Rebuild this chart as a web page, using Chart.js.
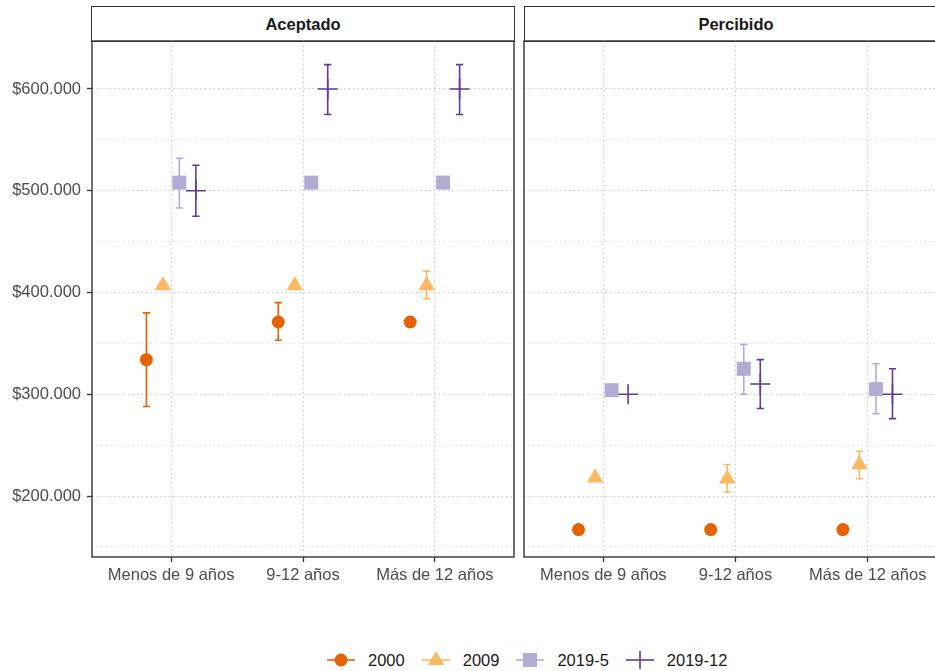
<!DOCTYPE html>
<html>
<head>
<meta charset="utf-8">
<script src="https://cdn.jsdelivr.net/npm/chart.js@4.4.0/dist/chart.umd.min.js"></script>
<style>
  body { margin: 0; width: 935px; height: 671px; overflow: hidden; background: #fff; position: relative;
         font-family: "Liberation Sans", Arial, sans-serif; }
  canvas { position: absolute; }
  .strip { position: absolute; top: 6px; height: 36px; box-sizing: border-box; border: 1.4px solid #333;
           background: #fff; color: #1A1A1A; font-weight: bold; font-size: 16.5px; text-align: center; line-height: 34px; }
  .legend { position: absolute; left: 327px; top: 650px; height: 20px; display: flex; align-items: center;
            font-size: 16.5px; color: #1A1A1A; }
  .legend svg { margin-right: 13px; }
  .legend span { margin-right: 17px; }
</style>
</head>
<body>
<div class="strip" style="left:91px;width:424px;">Aceptado</div>
<div class="strip" style="left:524px;width:424px;">Percibido</div>
<canvas id="panelA" width="529" height="580" style="left:0;top:21px;"></canvas>
<canvas id="panelP" width="453" height="580" style="left:509px;top:21px;"></canvas>

<div class="legend">
  <svg width="28" height="20"><line x1="0" y1="10" x2="28" y2="10" stroke="#E66101" stroke-width="1.6"/><circle cx="14" cy="10" r="6.5" fill="#E66101"/></svg><span>2000</span>
  <svg width="28" height="20"><line x1="0" y1="10" x2="28" y2="10" stroke="#FDB863" stroke-width="1.6"/><polygon points="14,1 22.2,15 5.8,15" fill="#FDB863"/></svg><span>2009</span>
  <svg width="28" height="20"><line x1="0" y1="10" x2="28" y2="10" stroke="#B2ABD2" stroke-width="1.6"/><rect x="7" y="3" width="14" height="14" fill="#B2ABD2"/></svg><span>2019-5</span>
  <svg width="28" height="20"><line x1="0" y1="10" x2="28" y2="10" stroke="#5E3C99" stroke-width="1.6"/><line x1="14" y1="1" x2="14" y2="19" stroke="#5E3C99" stroke-width="1.6"/></svg><span>2019-12</span>
</div>

<script>
// ---- data ----
const categories = ['Menos de 9 años', '9-12 años', 'Más de 12 años'];
const seriesNames = ['2000', '2009', '2019-5', '2019-12'];
const yTicks = [150000, 200000, 250000, 300000, 350000, 400000, 450000, 500000, 550000, 600000];

// Aceptado
const acep2000 = [334000, 371000, 371000];
const acep2000Lo = [288000, 353000, null];
const acep2000Hi = [380000, 390000, null];
const acep2009 = [407000, 407000, 407000];
const acep2009Lo = [null, null, 394000];
const acep2009Hi = [null, null, 421000];
const acep2019m5 = [508000, 508000, 508000];
const acep2019m5Lo = [483000, null, null];
const acep2019m5Hi = [532000, null, null];
const acep2019m12 = [500000, 600000, 600000];
const acep2019m12Lo = [475000, 575000, 575000];
const acep2019m12Hi = [525000, 624000, 624000];

// Percibido
const perc2000 = [167000, 167000, 167000];
const perc2000Lo = [null, null, null];
const perc2000Hi = [null, null, null];
const perc2009 = [218000, 217000, 231000];
const perc2009Lo = [null, 204000, 217000];
const perc2009Hi = [null, 231000, 244000];
const perc2019m5 = [304000, 325000, 305000];
const perc2019m5Lo = [null, 300000, 281000];
const perc2019m5Hi = [null, 349000, 330000];
const perc2019m12 = [300000, 310000, 300000];
const perc2019m12Lo = [null, 286000, 276000];
const perc2019m12Hi = [null, 334000, 325000];

// ---- styles ----
const colors = ['#E66101', '#FDB863', '#B2ABD2', '#5E3C99'];
const shapes = ['circle', 'triangle', 'rect', 'cross'];
const sizes = [6.5, 9.5, 9.9, 10];
const dodge = [-0.1875, -0.0625, 0.0625, 0.1875];

Chart.defaults.font.family = '"Liberation Sans", Arial, sans-serif';
Chart.defaults.font.size = 16.5;
Chart.defaults.color = '#4D4D4D';

function fmt(v) {
  return '$' + String(v).replace(/\B(?=(\d{3})+(?!\d))/g, '.');
}

const errorBars = {
  id: 'errorBars',
  beforeDatasetsDraw(chart) {
    const { ctx } = chart;
    const y = chart.scales.y;
    chart.data.datasets.forEach((ds, di) => {
      const meta = chart.getDatasetMeta(di);
      meta.data.forEach((pt, i) => {
        const lo = ds.errLo[i], hi = ds.errHi[i];
        if (lo == null || hi == null) return;
        const yl = y.getPixelForValue(lo), yh = y.getPixelForValue(hi);
        ctx.save();
        ctx.strokeStyle = ds.borderColor;
        ctx.lineWidth = 1.6;
        ctx.beginPath();
        ctx.moveTo(pt.x, yl); ctx.lineTo(pt.x, yh);
        ctx.moveTo(pt.x - 3.6, yl); ctx.lineTo(pt.x + 3.6, yl);
        ctx.moveTo(pt.x - 3.6, yh); ctx.lineTo(pt.x + 3.6, yh);
        ctx.stroke();
        ctx.restore();
      });
    });
  }
};

const panelBox = {
  id: 'panelBox',
  afterDraw(chart) {
    const { ctx, chartArea: a } = chart;
    ctx.save();
    ctx.strokeStyle = '#333';
    ctx.lineWidth = 1.4;
    ctx.strokeRect(a.left, a.top, a.right - a.left, a.bottom - a.top);
    ctx.restore();
  }
};

function makePanel(id, values, los, his, showY, pad) {
  const datasets = seriesNames.map((name, s) => ({
    label: name,
    data: values[s].map((v, i) => ({ x: i + 1 + dodge[s], y: v })),
    errLo: los[s],
    errHi: his[s],
    pointStyle: shapes[s],
    pointRadius: sizes[s],
    backgroundColor: colors[s],
    borderColor: colors[s],
    borderWidth: shapes[s] === 'cross' ? 1.6 : 0,
    showLine: false
  }));

  new Chart(document.getElementById(id), {
    type: 'scatter',
    data: { datasets },
    options: {
      responsive: false,
      animation: false,
      events: [],
      layout: { padding: pad },
      plugins: { legend: { display: false }, tooltip: { enabled: false } },
      scales: {
        x: {
          type: 'linear', min: 0.4, max: 3.6,
          afterBuildTicks: sc => { sc.ticks = categories.map((c, i) => ({ value: i + 1 })); },
          afterFit: sc => { sc.height = 44; },
          ticks: { callback: v => categories[v - 1], padding: 4, color: '#4D4D4D', autoSkip: false, maxRotation: 0 },
          grid: { color: '#C6C6C6', lineWidth: 1, tickLength: 5, tickColor: '#333', tickWidth: 1.3, tickBorderDash: [] },
          border: { display: false, dash: [1.5, 3] }
        },
        y: {
          type: 'linear', min: 140050, max: 647170,
          afterBuildTicks: sc => { sc.ticks = yTicks.map(v => ({ value: v })); },
          afterFit: sc => { sc.width = showY ? 92 : 0; },
          ticks: {
            display: showY,
            callback: v => (v % 100000 === 0 ? fmt(v) : ''),
            padding: 6, color: '#4D4D4D'
          },
          grid: {
            color: c => (c.tick && c.tick.value % 100000 === 0 ? '#C6C6C6' : '#DCDCDC'),
            lineWidth: 1,
            drawTicks: showY,
            tickLength: 5,
            tickWidth: 1.3,
            tickColor: c => (c.tick && c.tick.value % 100000 === 0 ? '#333' : 'rgba(0,0,0,0)'),
            tickBorderDash: []
          },
          border: { display: false, dash: [1.5, 3] }
        }
      }
    },
    plugins: [errorBars, panelBox]
  });
}

makePanel('panelA',
  [acep2000, acep2009, acep2019m5, acep2019m12],
  [acep2000Lo, acep2009Lo, acep2019m5Lo, acep2019m12Lo],
  [acep2000Hi, acep2009Hi, acep2019m5Hi, acep2019m12Hi],
  true, { top: 20, right: 15, left: 0, bottom: 0 });

makePanel('panelP',
  [perc2000, perc2009, perc2019m5, perc2019m12],
  [perc2000Lo, perc2009Lo, perc2019m5Lo, perc2019m12Lo],
  [perc2000Hi, perc2009Hi, perc2019m5Hi, perc2019m12Hi],
  false, { top: 20, right: 15, left: 15, bottom: 0 });
</script>
</body>
</html>
